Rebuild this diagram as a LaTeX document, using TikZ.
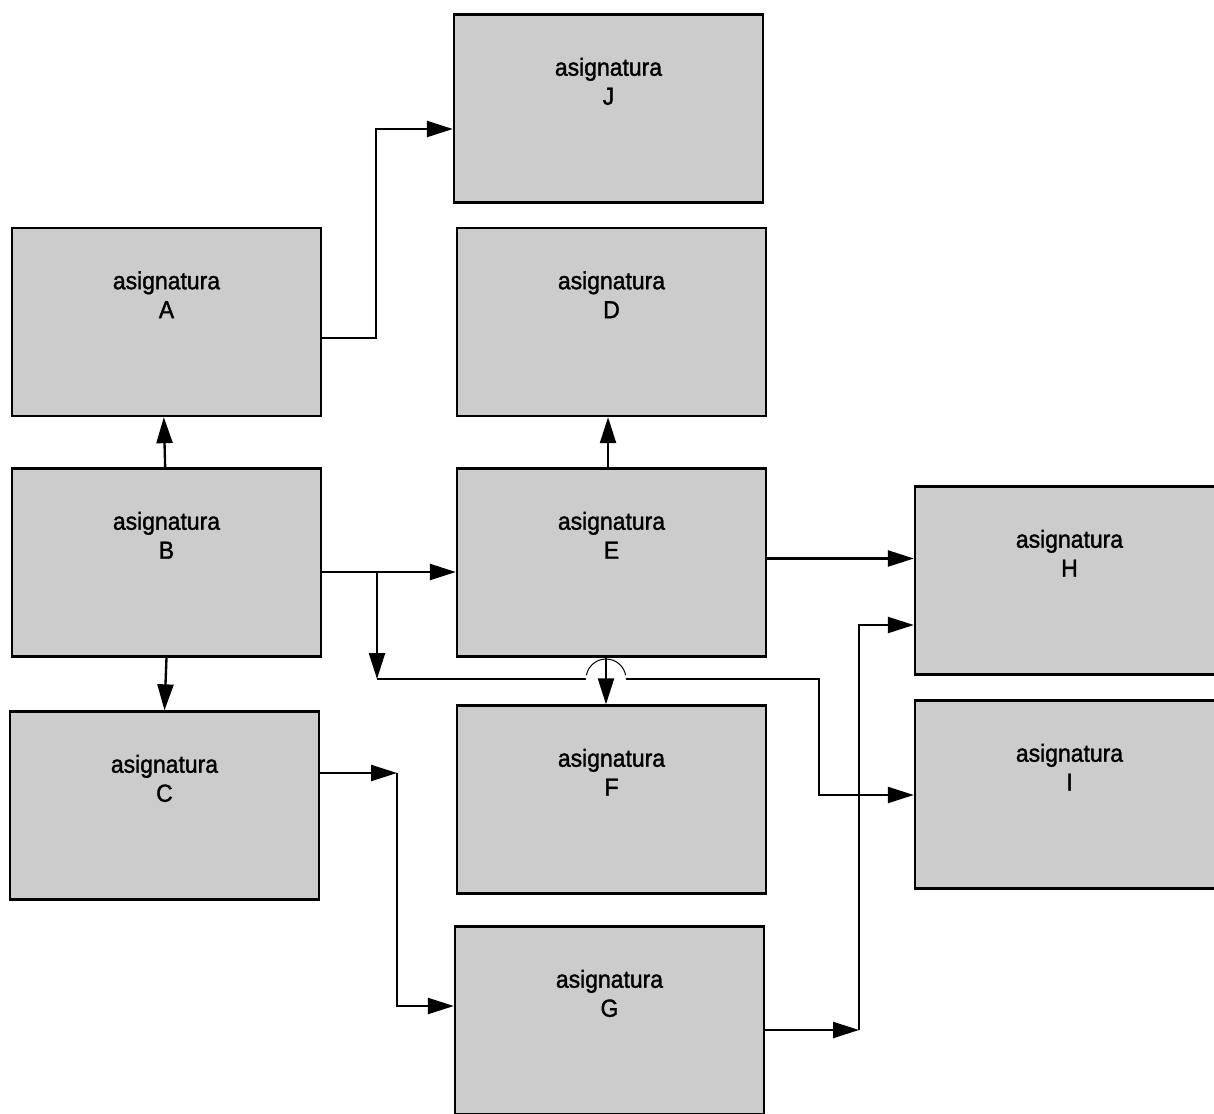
\documentclass[tikz,border=0pt]{standalone}
\usepackage{fontspec}
\setmainfont{Liberation Sans}[FakeStretch=0.93,FakeBold=1.5]
\usetikzlibrary{arrows.meta}

\definecolor{gris}{HTML}{CCCCCC}
\tikzset{every picture/.style={line width=1.75pt}}
\tikzset{
  asig/.style={draw, fill=gris, minimum width=231.75pt, minimum height=141pt, inner sep=0pt,
    label={[etiq]north:{asignatura\\#1}}},
  etiq/.style={anchor=north, yshift=-32.5pt, align=center, inner sep=0pt,
    font=\fontsize{18.5pt}{21.75pt}\selectfont},
  flecha/.style={-{Triangle[length=19.5pt,width=12pt]}},
  salto/.style={line width=0.75pt}
}

\begin{document}
\begin{tikzpicture}[x=0.75pt,y=0.75pt,yscale=-1,xscale=1]
\useasboundingbox (0,0) rectangle (1214,1114); %set diagram to the size of the reference

%Shape: Rectangle [asignaturas]
\node[asig=J] (J) at (608.5,108.5) {};
\node[asig=A] (A) at (166.5,322) {};
\node[asig=D] (D) at (611.5,322) {};
\node[asig=B] (B) at (166.5,562.5) {};
\node[asig=E] (E) at (611.5,562.5) {};
\node[asig=H] (H) at (1069.5,580.5) {};
\node[asig=C] (C) at (164.5,805.5) {};
\node[asig=F] (F) at (611.5,799.5) {};
\node[asig=I] (I) at (1069.5,794.5) {};
\node[asig=G] (G) at (609.5,1020.5) {};

%Corners of the connectors
\coordinate (codoAJ) at (376,338);
\coordinate (codoJ) at (376,129);
\coordinate (ramaB) at (377,572);
\coordinate (codoBF) at (377,679);
\coordinate (cruce) at (606,679);
\coordinate (saltoIzq) at (586.4,679);
\coordinate (saltoDer) at (625.6,679);
\coordinate (codoFI) at (819,679);
\coordinate (codoI) at (819,795);
\coordinate (nivelEH) at (840,558.5);
\coordinate (codoCG) at (397,773);
\coordinate (codoG) at (397,1006);
\coordinate (codoGH) at (859,1030);
\coordinate (codoH) at (859,625);

%Straight Lines [A -> J]
\draw[flecha] (codoAJ -| A.east) -- (codoAJ) -- (codoJ) -- (codoJ -| J.west);
%Straight Lines [B -> A]
\draw[flecha] ([xshift=-1pt]B.north) -- ([xshift=-2pt]A.south);
%Straight Lines [B -> E]
\draw[flecha] (ramaB -| B.east) -- (ramaB -| E.west);
%Straight Lines [B -> I]
\draw[flecha] (ramaB) -- (codoBF);
\draw (codoBF) -- (saltoIzq);
\draw[salto] (cruce) ++(191:20) arc[start angle=191, end angle=349, radius=20];
\draw[flecha] (saltoDer) -- (codoFI) -- (codoI) -- (codoI -| I.west);
%Straight Lines [E -> F]
\draw[flecha] (cruce |- E.south) -- (cruce |- F.north);
%Straight Lines [E -> D]
\draw[flecha] ([xshift=-2.6pt]E.north) -- ([xshift=-2.6pt]D.south);
%Straight Lines [E -> H]
\draw[flecha] (nivelEH -| E.east) -- (nivelEH -| H.west);
%Straight Lines [B -> C]
\draw[flecha] (B.south) -- (C.north);
%Straight Lines [C -> G]
\draw[flecha] (codoCG -| C.east) -- (codoCG);
\draw[flecha] (codoCG) -- (codoG) -- (codoG -| G.west);
%Straight Lines [G -> H]
\draw[flecha] (codoGH -| G.east) -- (codoGH);
\draw[flecha] (codoGH) -- (codoH) -- (codoH -| H.west);

\end{tikzpicture}
\end{document}
